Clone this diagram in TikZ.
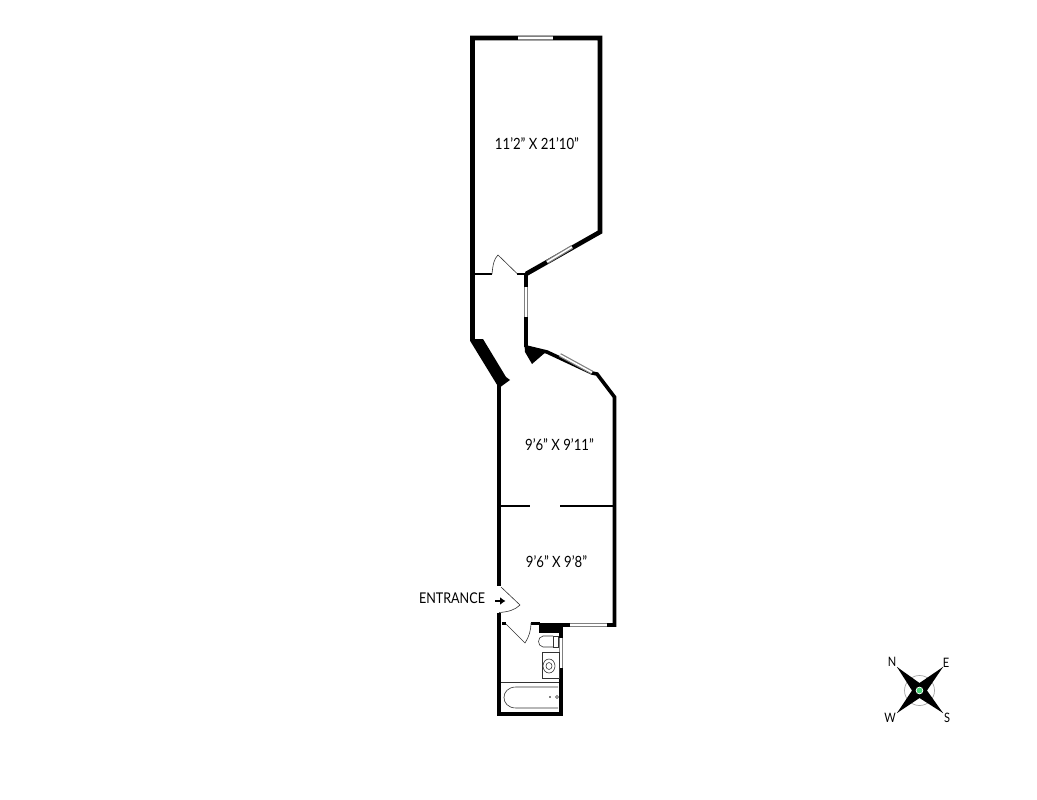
\documentclass[tikz,border=0pt]{standalone}
\usepackage{fontspec}
\setmainfont[FakeStretch=0.85]{Lato}
\usetikzlibrary{arrows.meta}

\tikzset{
    wall/.style={draw=black, line width=4.6pt, miter limit=10},
    partition/.style={draw=black, line width=2.4pt},
    window/.style={draw=gray, line width=1.2pt, double=white, double distance=1.6pt},
    fixture/.style={draw=black!80, line width=0.6pt},
    dim/.style={font=\fontsize{15.5}{17}\selectfont, inner sep=0pt},
    compasslabel/.style={font=\fontsize{13}{15}\selectfont, inner sep=0pt}
}

\begin{document}
\begin{tikzpicture}[x=1pt,y=-1pt]
    \useasboundingbox (0,0) rectangle (1037,800);

    % outer walls
    \draw[wall, line width=4pt] (499,385) -- (499,586);
    \draw[wall, line width=4pt] (499,613) -- (499,713.5) -- (561,713.5) -- (561,625);
    \draw[wall] (472.5,339) -- (472.5,38) -- (600,38) -- (600,232) -- (526,274);
    \draw[wall, line width=4pt] (526,274) -- (526,347);
    \draw[wall, line width=3.6pt] (526,347) -- (547,352) -- (592,373) -- (597,374) -- (614.5,397) -- (614.5,625) -- (561,625);
    \fill (539,623) rectangle (563,633);
    \draw[partition] (531,623.5) -- (540,623.5);

    % thick chimney pieces
    \fill (470.2,339) -- (483,339) -- (506,377) -- (510,380) -- (499,388) -- (470.2,341) -- cycle;
    \fill (524.5,345) -- (547,351) -- (532,364) -- (525,352) -- cycle;

    % inner partitions
    \draw[partition] (472,274) -- (492,274);
    \draw[partition] (517,274) -- (526,274);
    \draw[partition] (499,506) -- (530,506);
    \draw[partition] (560,506) -- (614,506);
    \draw[partition] (502,623.5) -- (506,623.5);

    % windows
    \draw[window] (518,38) -- (553,38);
    \draw[window] (547,262) -- (572,247);
    \draw[window] (526,287) -- (526,317);
    \draw[window] (560,355) -- (592,372.5);
    \draw[window] (570,625) -- (607,625);
    \draw[window] (561,638) -- (561,668);

    % doors
    \draw[fixture] (492,274) .. controls (493,264) and (494,259) .. (498,255) -- (517,273.5);
    \draw[fixture] (501,587) -- (520,605) .. controls (515,610) and (508,612) .. (499,612.5);
    \draw[fixture] (506,624) -- (525,643) .. controls (529,637) and (531,630) .. (531,623);

    % bathroom fixtures
    \draw[fixture] (553,636) -- (543,636) .. controls (537,637) and (537,646) .. (543,647) -- (553,647);
    \draw[fixture] (553,636) rectangle (558,647);
    \draw[fixture] (542,652) rectangle (559,678);
    \draw[fixture] (549,666) ellipse (6 and 7);
    \draw[fixture] (549,666) ellipse (3 and 3.5);
    \draw[fixture] (501,682.5) -- (559,682.5);
    \draw[fixture] (558,687) -- (516,687) .. controls (500,687) and (500,708) .. (516,708) -- (558,708);
    \fill (550,697) circle (0.9);
    \draw[fixture] (557,697) circle (1.5);

    % entrance arrow
    \coordinate (arrowstart) at (495,601);
    \coordinate (arrowend) at (505.5,601);
    \draw[-{Latex[length=5.5pt,width=8pt]}, line width=2.4pt] (arrowstart) -- (arrowend);

    % labels
    \node[dim] (bedroom) at (537,144) {11’2” X 21’10”};
    \node[dim] (living) at (559.5,445) {9’6” X 9’11”};
    \node[dim] (kitchen) at (556.5,562) {9’6” X 9’8”};
    \node[dim, font=\fontsize{14.8}{16}\selectfont] (entrance) at (452,598) {ENTRANCE};

    % compass
    \draw[gray!70, line width=0.7pt] (919.5,690.5) circle (15);
    \draw[gray, line width=0.5pt] (897,667) -- (943,713) (943,667) -- (897,713);
    \fill (897,667) -- (919.5,683) -- (943,667) -- (927,690.5) -- (943,713) -- (919.5,698) -- (897,713) -- (912,690.5) -- cycle;
    \fill[white] (919.5,690.5) circle (3.8);
    \fill[teal!50!green!70!white] (919.5,690.5) circle (2.9);
    \node[compasslabel] (north) at (892,662) {N};
    \node[compasslabel] (east) at (946,663) {E};
    \node[compasslabel] (west) at (890,718) {W};
    \node[compasslabel] (south) at (947,718) {S};
\end{tikzpicture}
\end{document}
